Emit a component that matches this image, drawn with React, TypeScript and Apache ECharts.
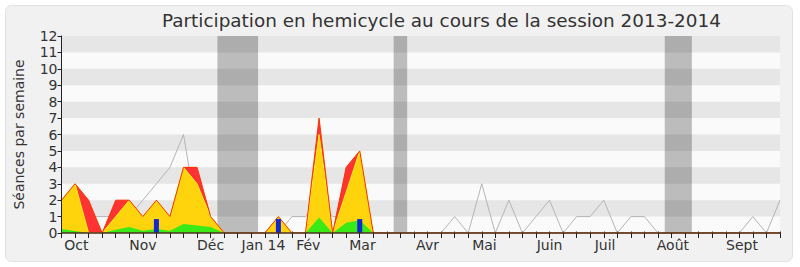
import React, { useEffect, useRef } from "react";
import * as echarts from "echarts";

// Weekly figures for the 2013-2014 session (week 0 = first week of October)
const presenceTotal = [
  2, 3, 2, 0, 2, 2, 1, 2, 1, 4, 4, 1, 0, 0, 0, 0, 1, 0, 0, 7, 0, 4, 5, 0, 0, 0, 0,
  0, 0, 0, 0, 0, 0, 0, 0, 0, 0, 0, 0, 0, 0, 0, 0, 0, 0, 0, 0, 0, 0, 0, 0, 0, 0, 0,
];
const presenceHemicycle = [
  2, 3, 0, 0, 1, 2, 1, 2, 1, 4, 3, 1, 0, 0, 0, 0, 1, 0, 0, 6, 0, 2.5, 5, 0, 0, 0, 0,
  0, 0, 0, 0, 0, 0, 0, 0, 0, 0, 0, 0, 0, 0, 0, 0, 0, 0, 0, 0, 0, 0, 0, 0, 0, 0, 0,
];
const interventions = [
  0.25, 0.12, 0, 0, 0.2, 0.37, 0.14, 0.24, 0.14, 0.55, 0.45, 0.37, 0, 0, 0, 0, 0, 0, 0, 0.95, 0, 0.62, 0.78, 0, 0, 0, 0,
  0, 0, 0, 0, 0, 0, 0, 0, 0, 0, 0, 0, 0, 0, 0, 0, 0, 0, 0, 0, 0, 0, 0, 0, 0, 0, 0,
];
const medianPresence = [
  2, 0, 1, 1, 1, 1, 2, 3, 4, 6, 1, 1, 0, 0, 0, 0, 0, 1, 1, 2, 1, 1, 1, 0, 0, 0, 0,
  0, 0, 1, 0, 3, 0, 2, 0, 1, 2, 0, 1, 1, 2, 0, 1, 1, 0, 0, 0, 0, 0, 0, 0, 1, 0, 2,
];
const questionWeeks = [7, 16, 22];
const questionValues = [0.85, 0.85, 0.85];

// Parliamentary breaks, in weeks
const breaks: [number, number][] = [
  [11.5, 14.5],
  [24.5, 25.5],
  [44.5, 46.5],
];

const monthLabels = ["Oct", "Nov", "Déc", "Jan 14", "Fév", "Mar", "Avr", "Mai", "Juin", "Juil", "Août", "Sept"];
const monthWeeks = [1.1, 6, 11, 14.9, 18.2, 22.2, 27, 31.2, 36, 40.1, 45.1, 50.2];

const yTicks = [0, 1, 2, 3, 4, 5, 6, 7, 8, 9, 10, 11, 12];
const lastWeek = presenceTotal.length - 1;

const pairs = (vals: number[]) => vals.map((v, i) => [i, v]);

export default function App() {
  const ref = useRef<HTMLDivElement>(null);

  useEffect(() => {
    if (!ref.current) return;
    const chart = echarts.init(ref.current, null, { renderer: "svg" });
    const font = "DejaVu Sans";
    const weekTicks = presenceTotal.map((_, i) => i);

    const stripes = yTicks
      .filter((t) => t % 2 === 1 && t < 12)
      .map((t) => [{ yAxis: t }, { yAxis: t + 1 }]);

    chart.setOption({
      animation: false,
      backgroundColor: "transparent",
      textStyle: { fontFamily: font },
      title: {
        text: "Participation en hemicycle au cours de la session 2013-2014",
        left: 157,
        top: 6,
        textStyle: { fontFamily: font, fontSize: 18.4, fontWeight: "normal", color: "#333" },
      },
      graphic: [
        {
          type: "rect",
          left: 5,
          top: 5,
          shape: { width: 787, height: 256, r: 6 },
          style: { fill: "#f1f1f1", stroke: "#e2e2e2", lineWidth: 1 },
          z: -10,
          silent: true,
        },
      ],
      grid: {
        left: 61.5,
        right: 20,
        top: 36,
        bottom: 34,
        show: true,
        backgroundColor: "#fafafa",
        borderWidth: 0,
      },
      xAxis: [
        {
          type: "value",
          min: 0,
          max: lastWeek,
          interval: 1,
          z: 20,
          axisLine: { show: true, lineStyle: { color: "#4b2e22", width: 1.5 } },
          axisTick: { show: true, length: 5, customValues: weekTicks, lineStyle: { color: "#222" } },
          axisLabel: {
            show: true,
            customValues: monthWeeks,
            margin: 5,
            fontSize: 14,
            color: "#333",
            fontFamily: font,
            formatter: (v: number) => {
              const k = monthWeeks.findIndex((m) => Math.abs(m - v) < 0.01);
              return k >= 0 ? monthLabels[k] : "";
            },
          },
          splitLine: { show: false },
        },
        {
          type: "value",
          position: "top",
          min: 0,
          max: lastWeek,
          interval: 1,
          axisLine: { show: false },
          axisTick: { show: true, length: 1.5, lineStyle: { color: "#333" } },
          axisLabel: { show: false },
          splitLine: { show: false },
        },
      ],
      yAxis: [
        {
          type: "value",
          min: 0,
          max: 12,
          interval: 1,
          z: 20,
          name: "Séances par semaine",
          nameLocation: "middle",
          nameGap: 36,
          nameTextStyle: { fontSize: 14, color: "#333", fontFamily: font },
          axisLine: { show: true, lineStyle: { color: "#222" } },
          axisTick: { show: true, length: 4, lineStyle: { color: "#222" } },
          axisLabel: { fontSize: 14, color: "#333", margin: 4, fontFamily: font },
          splitLine: { show: false },
        },
        {
          type: "value",
          position: "right",
          min: 0,
          max: 12,
          interval: 1,
          axisLine: { show: true, lineStyle: { color: "#cfcfcf" } },
          axisTick: { show: false },
          axisLabel: { show: false },
          splitLine: { show: false },
        },
      ],
      series: [
        {
          name: "vacances",
          type: "line",
          z: 1,
          silent: true,
          data: pairs(medianPresence),
          symbol: "none",
          lineStyle: { opacity: 0 },
          markArea: {
            silent: true,
            itemStyle: { color: "#bcbcbc" },
            data: breaks.map(([a, b]) => [{ xAxis: a }, { xAxis: b }]),
          },
        },
        {
          name: "bandes",
          type: "line",
          z: 2,
          silent: true,
          data: pairs(medianPresence),
          symbol: "none",
          lineStyle: { opacity: 0 },
          markArea: {
            silent: true,
            itemStyle: { color: "rgba(0,0,0,0.08)" },
            data: stripes,
          },
        },
        {
          name: "Présence médiane",
          type: "line",
          z: 3,
          data: pairs(medianPresence),
          symbol: "none",
          lineStyle: { color: "#b5b5b5", width: 1 },
        },
        {
          name: "Présences",
          type: "line",
          z: 4,
          data: pairs(presenceTotal),
          symbol: "none",
          lineStyle: { width: 0 },
          areaStyle: { color: "#ff3333", opacity: 1 },
        },
        {
          name: "Présences en hémicycle",
          type: "line",
          z: 5,
          data: pairs(presenceHemicycle),
          symbol: "none",
          lineStyle: { color: "#ffee22", width: 1 },
          areaStyle: { color: "#ffd40c", opacity: 1 },
        },
        {
          name: "Interventions",
          type: "line",
          z: 6,
          data: pairs(interventions),
          symbol: "none",
          lineStyle: { width: 0 },
          areaStyle: { color: "#3aea16", opacity: 1 },
        },
        {
          name: "Contour",
          type: "line",
          z: 7,
          data: pairs(presenceTotal),
          symbol: "none",
          lineStyle: { color: "#ff3000", width: 1 },
        },
        {
          name: "Questions orales",
          type: "bar",
          z: 8,
          barWidth: 5,
          data: questionWeeks.map((w, i) => [w, questionValues[i]]),
          itemStyle: { color: "#1428d2" },
        },
      ],
    });

    return () => chart.dispose();
  }, []);

  return (
    <div
      ref={ref}
      style={{ position: "fixed", left: 0, top: 0, width: 800, height: 267, background: "#ffffff" }}
    />
  );
}
